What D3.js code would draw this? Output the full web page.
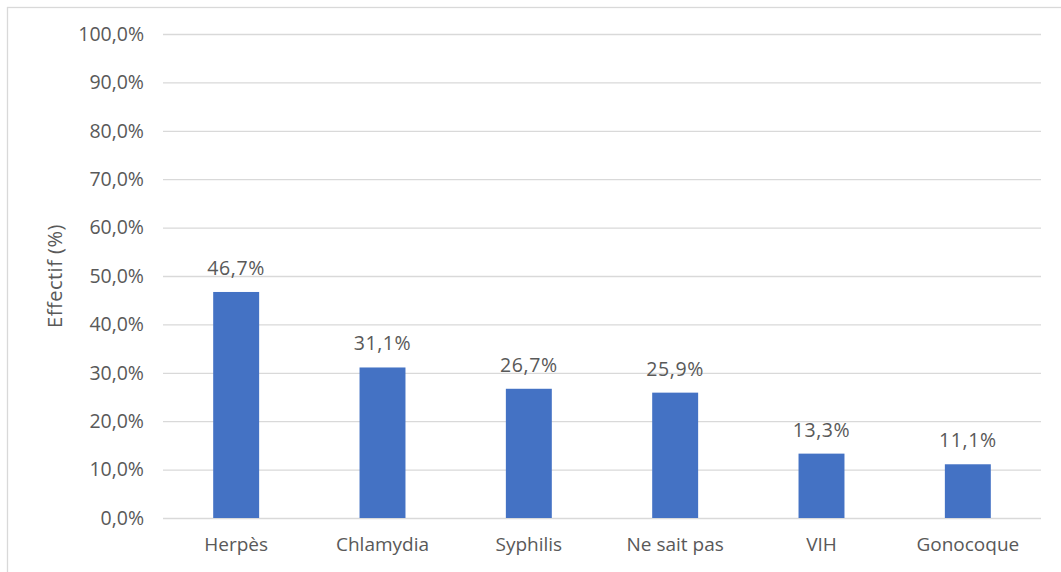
<!DOCTYPE html>
<html>
<head>
<meta charset="utf-8">
<script src="https://cdn.jsdelivr.net/npm/d3@7"></script>
<style>
  html, body { margin: 0; padding: 0; background: #fff; }
  svg { display: block; }
  text { font-family: "Open Sans", "Noto Sans", sans-serif; fill: #595959; }
</style>
</head>
<body>
<svg id="chart" width="1061" height="572"></svg>
<script>
// Infections sexuellement transmissibles connues (%)
const categories = ["Herpès", "Chlamydia", "Syphilis", "Ne sait pas", "VIH", "Gonocoque"];
const values = [46.7, 31.1, 26.7, 25.9, 13.3, 11.1];
const yTicks = [0, 10, 20, 30, 40, 50, 60, 70, 80, 90, 100];
const yTitle = "Effectif (%)";

const W = 1061, H = 572;
const plot = { left: 163, right: 1041, top: 34, bottom: 518 };
const numSize = 19.5, catSize = 19;

const svg = d3.select("#chart");
const fmt = v => d3.format(".1f")(v).replace(".", ",") + "%";

// chart frame
svg.append("rect")
  .attr("x", 7.5).attr("y", 7.5)
  .attr("width", W + 10).attr("height", H + 10)
  .attr("fill", "#fff").attr("stroke", "#d9d9d9").attr("stroke-width", 1.3);

const x = d3.scaleBand()
  .domain(categories)
  .range([plot.left, plot.right])
  .paddingInner(0.686)
  .paddingOuter(0.343);

const y = d3.scaleLinear()
  .domain([0, 100])
  .range([plot.bottom, plot.top]);

// gridlines + y tick labels
const yAxis = d3.axisLeft(y)
  .tickValues(yTicks)
  .tickSize(-(plot.right - plot.left))
  .tickPadding(19)
  .tickFormat(fmt);

const gy = svg.append("g")
  .attr("transform", `translate(${plot.left},0)`)
  .call(yAxis);
gy.select(".domain").remove();
gy.selectAll(".tick line").attr("stroke", "#d9d9d9").attr("stroke-width", 1.3);
gy.selectAll(".tick text")
  .attr("font-size", numSize)
  .attr("fill", "#595959")
  .style("font-family", '"Open Sans", sans-serif');

// bars
svg.append("g").selectAll("rect")
  .data(values)
  .join("rect")
  .attr("x", (d, i) => x(categories[i]))
  .attr("y", d => y(d))
  .attr("width", x.bandwidth())
  .attr("height", d => y(0) - y(d))
  .attr("fill", "#4472c4");

// value labels
svg.append("g").selectAll("text")
  .data(values)
  .join("text")
  .attr("x", (d, i) => x(categories[i]) + x.bandwidth() / 2)
  .attr("y", d => y(d) - 17)
  .attr("text-anchor", "middle")
  .attr("font-size", numSize)
  .attr("letter-spacing", 0.6)
  .text(d => fmt(d));

// category axis labels
const xAxis = d3.axisBottom(x).tickSize(0).tickPadding(20);
const gx = svg.append("g")
  .attr("transform", `translate(0,${plot.bottom})`)
  .call(xAxis);
gx.select(".domain").remove();
gx.selectAll(".tick text")
  .attr("font-size", catSize)
  .attr("fill", "#595959")
  .style("font-family", '"Open Sans", sans-serif');

// y axis title
svg.append("text")
  .attr("transform", `translate(62,${(plot.top + plot.bottom) / 2}) rotate(-90)`)
  .attr("text-anchor", "middle")
  .attr("font-size", 20)
  .attr("letter-spacing", 0.5)
  .text(yTitle);
</script>
</body>
</html>
